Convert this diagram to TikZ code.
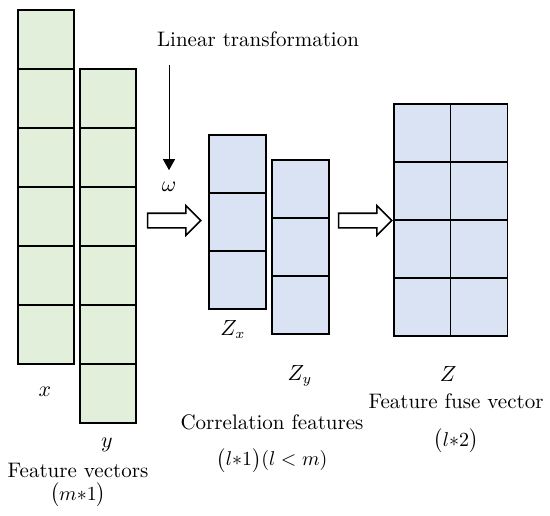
\documentclass[tikz,border=0pt]{standalone}
\usepackage{tikz}
\usetikzlibrary{shapes.arrows,arrows.meta,positioning}
\definecolor{cellgreen}{HTML}{E2EFDA}
\definecolor{cellblue}{HTML}{DAE3F3}

\begin{document}
\begin{tikzpicture}[
        x=0.5pt, y=-0.5pt,
        xcell/.style={draw, rectangle, fill=cellgreen, line width=0.8pt, inner sep=0pt, minimum width=28pt, minimum height=29.5pt},
        zcell/.style={draw, rectangle, fill=cellblue, line width=0.8pt, inner sep=0pt, minimum width=28.5pt, minimum height=29pt},
        fatarrow/.style={single arrow, draw, fill=white, line width=0.8pt, inner sep=3.25pt, single arrow head extend=3.75pt, minimum height=26.5pt},
        lbl/.style={anchor=base, inner sep=0pt, font=\fontsize{10.5}{12.6}\selectfont},
        dim/.style={lbl, font=\normalsize},
        arrow/.style={-{Triangle[width=6pt,length=5.5pt]}, line width=0.5pt}
    ]
        \useasboundingbox (0,0) rectangle (550,515);

        % Feature vectors
        \foreach \i in {0,...,5} {
            \node[xcell] (x\i) at (46, 39.5+59*\i) {};
            \node[xcell] (y\i) at (108, 98.5+59*\i) {};
        }
        \node[lbl] (xlab) at (45,396) {$x$};
        \node[lbl] (ylab) at (107,447) {$y$};
        \node[lbl] (fv) at (78,477) {Feature vectors};
        \node[dim, below=2.5pt of fv] (m1) {$\bigl(m{*}1\bigr)$};

        % Linear transformation
        \node[lbl] (lt) at (258,46) {Linear transformation};
        \node[lbl] (omega) at (169,191) {$\omega$};
        \coordinate (ltfoot) at (169,65);
        \draw[arrow, shorten >=5.5pt] (ltfoot) -- (omega.north);
        \node[fatarrow] (arr1) at (170.5,220.5) {};

        % Correlation features
        \foreach \i in {0,1,2} {
            \node[zcell] (zx\i) at (237.5, 164+58*\i) {};
            \node[zcell] (zy\i) at (300.5, 189+58*\i) {};
        }
        \node[lbl] (zxlab) at (233,335) {$Z_x$};
        \node[lbl] (zylab) at (300,380) {$Z_y$};
        \node[lbl] (cf) at (272,429) {Correlation features};
        \node[dim, below=9pt of cf] (l1) {$\bigl(l{*}1\bigr)(l<m)$};
        \node[fatarrow] (arr2) at (361.5,220.5) {};

        % Feature fuse vector
        \foreach \i in {0,...,3} {
            \node[zcell] (zl\i) at (422.5, 133+58*\i) {};
            \node[zcell] (zr\i) at (479, 133+58*\i) {};
        }
        \node[lbl] (zlab) at (448,381) {$Z$};
        \node[lbl] (ffv) at (456,408) {Feature fuse vector};
        \node[dim, below=10pt of ffv] (l2) {$\bigl(l{*}2\bigr)$};

    \end{tikzpicture}
\end{document}
